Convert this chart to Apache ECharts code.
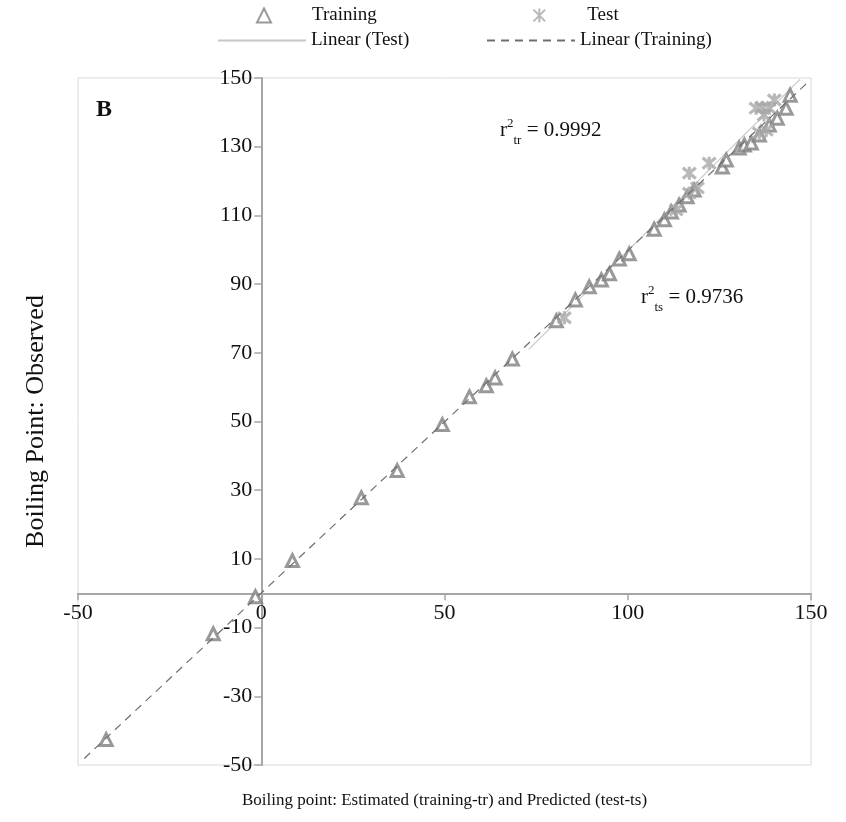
<!DOCTYPE html>
<html>
<head>
<meta charset="utf-8">
<script src="https://cdn.jsdelivr.net/npm/echarts@6/dist/echarts.min.js"></script>
<style>html,body{margin:0;padding:0;background:#fff}#c{width:846px;height:822px}</style>
</head>
<body>
<div id="c"></div>
<script>
// Training set: estimated (x) vs observed (y)
const trainX = [-42.3, -13.1, -1.6, 8.5, 27.3, 37.1, 49.4, 56.8, 61.4, 63.8, 68.5, 80.5, 85.7, 89.5, 92.8, 95.0, 97.7, 100.4, 107.2, 110.0, 111.9, 114.0, 116.2, 118.1, 125.8, 126.9, 130.4, 131.8, 133.7, 135.9, 138.6, 140.8, 143.2, 144.3];
const trainY = [-42.6, -11.8, -1.0, 9.5, 27.8, 35.7, 49.1, 57.2, 60.4, 62.7, 68.2, 79.3, 85.4, 89.2, 91.2, 93.0, 97.3, 98.8, 106.0, 108.7, 111.0, 113.0, 115.4, 117.4, 124.1, 126.1, 129.6, 130.5, 131.1, 133.4, 136.3, 138.3, 141.2, 145.0];
// Test set: predicted (x) vs observed (y)
const testX = [82.7, 113.2, 116.8, 119.0, 116.8, 122.2, 135.0, 136.7, 138.6, 140.0, 135.9, 137.8, 137.2];
const testY = [80.2, 111.6, 116.5, 118.0, 122.3, 125.2, 141.2, 141.5, 141.2, 143.6, 134.0, 134.8, 139.2];
// Trendline endpoints
const trendTrainX = [-48.3, 149.0];
const trendTrainY = [-48.1, 148.6];
const trendTestX = [73.0, 147.0];
const trendTestY = [71.0, 149.6];
// Axis ticks
const xTicks = { min: -50, max: 150, interval: 50 };
const yTicks = { min: -50, max: 150, interval: 20 };

const zip = (a, b) => a.map((v, i) => [v, b[i]]);
const FONT = 'Liberation Serif';
const star = 'path://M0,0 L10,10 M10,0 L0,10 M5,-1 L5,11';

const W = 846, H = 822;
const G = { left: 78, right: 35, top: 78, bottom: 57 };
const plotW = W - G.left - G.right, plotH = H - G.top - G.bottom;
// axes cross at zero: shift each axis inward to the other axis' zero
const yAxisShift = (0 - xTicks.min) / (xTicks.max - xTicks.min) * plotW;
const xAxisShift = (0 - yTicks.min) / (yTicks.max - yTicks.min) * plotH;

const chart = echarts.init(document.getElementById('c'), null, { renderer: 'canvas' });
const lineLegend = {
  itemWidth: 88, itemHeight: 14, orient: 'horizontal', padding: 0,
  textStyle: { fontFamily: FONT, fontSize: 19, color: '#111' },
  selectedMode: false
};
const markLegend = {
  itemWidth: 14, itemHeight: 14, orient: 'horizontal', padding: 0,
  textStyle: { fontFamily: FONT, fontSize: 19, color: '#111', padding: [0, 0, 0, 36] },
  selectedMode: false
};
chart.setOption({
  animation: false,
  backgroundColor: '#fff',
  grid: { left: G.left, right: G.right, top: G.top, bottom: G.bottom, containLabel: false, outerBoundsMode: 'none',
          show: true, borderColor: '#d9d9d9', borderWidth: 1, backgroundColor: 'transparent' },
  legend: [
    Object.assign({}, markLegend, { data: ['Training'], left: 256, top: 6 }),
    Object.assign({}, markLegend, { data: ['Test'], left: 531, top: 6 }),
    Object.assign({}, lineLegend, { data: [{ name: 'Linear (Test)', itemStyle: { opacity: 0 } }], left: 217, top: 31 }),
    Object.assign({}, lineLegend, { data: [{ name: 'Linear (Training)', itemStyle: { opacity: 0 } }], left: 486, top: 31 })
  ],
  xAxis: {
    type: 'value', min: xTicks.min, max: xTicks.max, interval: xTicks.interval,
    position: 'bottom', offset: -xAxisShift,
    axisLine: { show: true, onZero: false, lineStyle: { color: '#a6a6a6', width: 2 } },
    axisTick: { show: true, length: 7, lineStyle: { color: '#a6a6a6', width: 1.5 } },
    axisLabel: { fontFamily: FONT, fontSize: 22, color: '#111', margin: 9 },
    splitLine: { show: false },
    name: 'Boiling point: Estimated (training-tr) and Predicted (test-ts)',
    nameLocation: 'middle', nameGap: 199,
    nameTextStyle: { fontFamily: FONT, fontSize: 17, color: '#111' }
  },
  yAxis: {
    type: 'value', min: yTicks.min, max: yTicks.max, interval: yTicks.interval,
    position: 'left', offset: -yAxisShift,
    axisLine: { show: true, onZero: false, lineStyle: { color: '#a6a6a6', width: 2 } },
    axisTick: { show: true, length: 7, lineStyle: { color: '#a6a6a6', width: 1.5 } },
    axisLabel: { fontFamily: FONT, fontSize: 22, color: '#111', margin: 9 },
    splitLine: { show: false },
    name: 'Boiling Point: Observed',
    nameLocation: 'middle', nameGap: 212,
    nameTextStyle: { fontFamily: FONT, fontSize: 26, color: '#111' }
  },
  series: [
    {
      name: 'Linear (Test)', type: 'line', data: zip(trendTestX, trendTestY),
      symbol: 'none', lineStyle: { color: '#c8c8c8', width: 1.2, type: 'solid' },
      itemStyle: { color: '#c8c8c8' }, z: 1
    },
    {
      name: 'Linear (Training)', type: 'line', data: zip(trendTrainX, trendTrainY),
      symbol: 'none', lineStyle: { color: '#6e6e6e', width: 1.2, type: [8, 6] },
      itemStyle: { color: '#6e6e6e' }, z: 3
    },
    {
      name: 'Training', type: 'scatter', data: zip(trainX, trainY),
      symbol: 'triangle', symbolSize: 12,
      itemStyle: { color: '#ffffff', borderColor: '#808080', borderWidth: 3 }, z: 2
    },
    {
      name: 'Test', type: 'scatter', data: zip(testX, testY),
      symbol: star, symbolSize: 13,
      itemStyle: { color: 'none', borderColor: '#a6a6a6', borderWidth: 3.2 }, z: 2
    }
  ],
  graphic: [
    { type: 'text', left: 96, top: 98, style: { text: 'B', fontFamily: FONT, fontSize: 24, fontWeight: 'bold', fill: '#111' } },
    { type: 'text', left: 500, top: 117, style: {
      text: '{r|r}{sup|2}{sub|tr}{r| = 0.9992}',
      rich: {
        r: { fontFamily: FONT, fontSize: 21, fill: '#111', verticalAlign: 'bottom', lineHeight: 24 },
        sup: { fontFamily: FONT, fontSize: 13, fill: '#111', verticalAlign: 'top', lineHeight: 24, padding: [0, 0, 12, 0] },
        sub: { fontFamily: FONT, fontSize: 13, fill: '#111', verticalAlign: 'bottom', lineHeight: 24, padding: [0, 0, -6, 0] }
      } } },
    { type: 'text', left: 641, top: 284, style: {
      text: '{r|r}{sup|2}{sub|ts}{r| = 0.9736}',
      rich: {
        r: { fontFamily: FONT, fontSize: 21, fill: '#111', verticalAlign: 'bottom', lineHeight: 24 },
        sup: { fontFamily: FONT, fontSize: 13, fill: '#111', verticalAlign: 'top', lineHeight: 24, padding: [0, 0, 12, 0] },
        sub: { fontFamily: FONT, fontSize: 13, fill: '#111', verticalAlign: 'bottom', lineHeight: 24, padding: [0, 0, -6, 0] }
      } } }
  ]
});
</script>
</body>
</html>
